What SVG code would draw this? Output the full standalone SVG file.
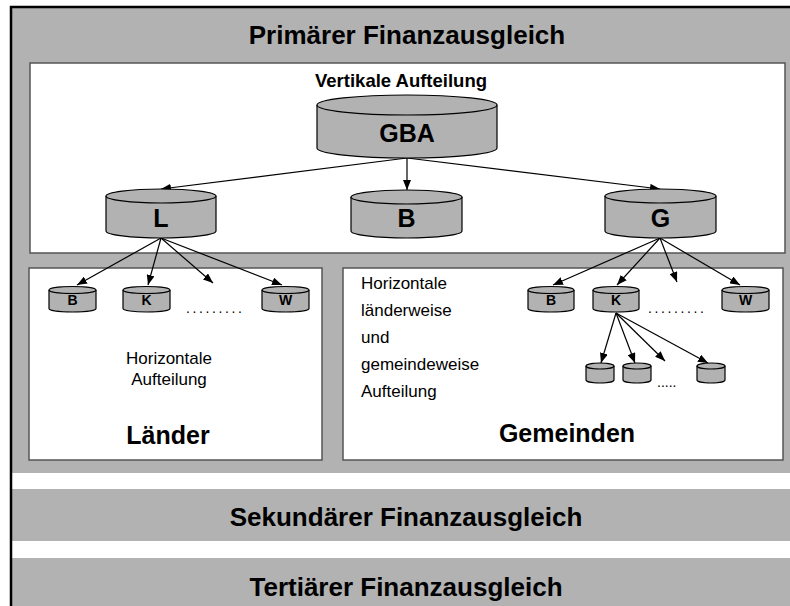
<svg xmlns="http://www.w3.org/2000/svg" width="790" height="606" viewBox="0 0 790 606">
<defs>
<style>
.band{fill:#b2b2b2}
.box{fill:#fff;stroke:#555;stroke-width:1.5}
.cyl{fill:#b2b2b2;stroke:#000;stroke-width:1.2}
.ttl{font-family:"Liberation Sans",Arial,sans-serif;font-weight:bold;font-size:26px;fill:#000;text-anchor:middle}
.sub{font-family:"Liberation Sans",Arial,sans-serif;font-weight:bold;font-size:18.5px;fill:#000;text-anchor:middle}
.big{font-family:"Liberation Sans",Arial,sans-serif;font-weight:bold;font-size:25px;fill:#000;text-anchor:middle}
.sm{font-family:"Liberation Sans",Arial,sans-serif;font-weight:bold;font-size:14px;fill:#000;text-anchor:middle}
.reg{font-family:"Liberation Sans",Arial,sans-serif;font-size:17px;fill:#000}
.dots{font-family:"Liberation Sans",Arial,sans-serif;font-size:14px;fill:#000}
.arr{stroke:#000;stroke-width:1.2;fill:none;marker-end:url(#ah)}
</style>
<marker id="ah" viewBox="0 0 10 8" refX="10" refY="4" markerWidth="10" markerHeight="8" markerUnits="userSpaceOnUse" orient="auto">
<path d="M0,0 L10,4 L0,8 Z" fill="#000"/>
</marker>
</defs>

<g id="background">
<rect x="0" y="0" width="790" height="606" fill="#fff"/>
<rect class="band" x="11" y="7" width="779" height="466"/>
<rect class="band" x="11" y="489" width="779" height="52"/>
<rect class="band" x="11" y="558" width="779" height="48"/>
<path d="M11,606 L11,7 L790,7" fill="none" stroke="#000" stroke-width="2.5"/>
</g>

<g id="primaer">
<text class="ttl" x="407" y="44">Primärer Finanzausgleich</text>
</g>

<g id="vertikal-box">
<rect class="box" x="30" y="63" width="755" height="190"/>
<text class="sub" x="401" y="87">Vertikale Aufteilung</text>
</g>

<g id="laender-box">
<rect class="box" x="29" y="268" width="293" height="192"/>
<text class="reg" x="169" y="364" text-anchor="middle">Horizontale</text>
<text class="reg" x="169" y="385" text-anchor="middle">Aufteilung</text>
<text class="big" x="168" y="444">Länder</text>
</g>

<g id="gemeinden-box">
<rect class="box" x="343" y="268" width="440" height="192"/>
<text class="reg" x="361" y="289">Horizontale</text>
<text class="reg" x="361" y="316">länderweise</text>
<text class="reg" x="361" y="343">und</text>
<text class="reg" x="361" y="370">gemeindeweise</text>
<text class="reg" x="361" y="397">Aufteilung</text>
<text class="big" x="567" y="442">Gemeinden</text>
</g>

<g id="sekundaer">
<text class="ttl" x="406" y="526">Sekundärer Finanzausgleich</text>
</g>
<g id="tertiaer">
<text class="ttl" x="406" y="596">Tertiärer Finanzausgleich</text>
</g>

<g id="connectors">
<line class="arr" x1="407" y1="158" x2="161" y2="189"/>
<line class="arr" x1="407" y1="158" x2="407" y2="190"/>
<line class="arr" x1="407" y1="158" x2="660" y2="189"/>
<line class="arr" x1="161" y1="238" x2="77" y2="285"/>
<line class="arr" x1="161" y1="238" x2="148" y2="285"/>
<line class="arr" x1="161" y1="238" x2="213" y2="283"/>
<line class="arr" x1="161" y1="238" x2="282" y2="285"/>
<line class="arr" x1="660" y1="238" x2="553" y2="285"/>
<line class="arr" x1="660" y1="238" x2="617" y2="285"/>
<line class="arr" x1="660" y1="238" x2="677" y2="282"/>
<line class="arr" x1="660" y1="238" x2="740" y2="285"/>
<line class="arr" x1="616" y1="313" x2="601" y2="363"/>
<line class="arr" x1="616" y1="313" x2="635" y2="363"/>
<line class="arr" x1="616" y1="313" x2="665" y2="361"/>
<line class="arr" x1="616" y1="313" x2="708" y2="363"/>
</g>

<g id="node-gba">
<path class="cyl" d="M317,105 L317,148 A90,10 0 0 0 497,148 L497,105"/>
<ellipse class="cyl" cx="407" cy="105" rx="90" ry="10"/>
<text class="big" x="407" y="142">GBA</text>
</g>
<g id="node-l">
<path class="cyl" d="M106,196 L106,231 A55,7 0 0 0 216,231 L216,196"/>
<ellipse class="cyl" cx="161" cy="196" rx="55" ry="7"/>
<text class="big" x="161" y="227">L</text>
</g>
<g id="node-b">
<path class="cyl" d="M351,197 L351,231 A55.5,7 0 0 0 462,231 L462,197"/>
<ellipse class="cyl" cx="406.5" cy="197" rx="55.5" ry="7"/>
<text class="big" x="406.5" y="227">B</text>
</g>
<g id="node-g">
<path class="cyl" d="M605,196 L605,231 A55.5,7 0 0 0 716,231 L716,196"/>
<ellipse class="cyl" cx="660.5" cy="196" rx="55.5" ry="7"/>
<text class="big" x="660.5" y="227">G</text>
</g>

<g id="node-l-b">
<path class="cyl" d="M49,290 L49,308.5 A23.5,3.5 0 0 0 96,308.5 L96,290"/>
<ellipse class="cyl" cx="72.5" cy="290" rx="23.5" ry="3.5"/>
<text class="sm" x="72.5" y="305">B</text>
</g>
<g id="node-l-k">
<path class="cyl" d="M123,290 L123,308.5 A23.5,3.5 0 0 0 170,308.5 L170,290"/>
<ellipse class="cyl" cx="146.5" cy="290" rx="23.5" ry="3.5"/>
<text class="sm" x="146.5" y="305">K</text>
</g>
<g id="node-l-w">
<path class="cyl" d="M262,290 L262,308.5 A23.5,3.5 0 0 0 309,308.5 L309,290"/>
<ellipse class="cyl" cx="285.5" cy="290" rx="23.5" ry="3.5"/>
<text class="sm" x="285.5" y="305">W</text>
</g>
<text class="dots" x="186" y="313" letter-spacing="2.6">.........</text>

<g id="node-g-b">
<path class="cyl" d="M528,290 L528,308.5 A23,3.5 0 0 0 574,308.5 L574,290"/>
<ellipse class="cyl" cx="551" cy="290" rx="23" ry="3.5"/>
<text class="sm" x="551" y="305">B</text>
</g>
<g id="node-g-k">
<path class="cyl" d="M593,290 L593,308.5 A23,3.5 0 0 0 639,308.5 L639,290"/>
<ellipse class="cyl" cx="616" cy="290" rx="23" ry="3.5"/>
<text class="sm" x="616" y="305">K</text>
</g>
<g id="node-g-w">
<path class="cyl" d="M722,290 L722,308.5 A23.5,3.5 0 0 0 769,308.5 L769,290"/>
<ellipse class="cyl" cx="745.5" cy="290" rx="23.5" ry="3.5"/>
<text class="sm" x="745.5" y="305">W</text>
</g>
<text class="dots" x="648" y="313" letter-spacing="2.6">.........</text>

<g id="node-k-1">
<path class="cyl" d="M586,366 L586,380 A14,3 0 0 0 614,380 L614,366"/>
<ellipse class="cyl" cx="600" cy="366" rx="14" ry="3"/>
</g>
<g id="node-k-2">
<path class="cyl" d="M623,366 L623,380 A14,3 0 0 0 651,380 L651,366"/>
<ellipse class="cyl" cx="637" cy="366" rx="14" ry="3"/>
</g>
<g id="node-k-3">
<path class="cyl" d="M697,366 L697,380 A14,3 0 0 0 725,380 L725,366"/>
<ellipse class="cyl" cx="711" cy="366" rx="14" ry="3"/>
</g>
<text class="dots" x="657" y="387">.....</text>
</svg>
